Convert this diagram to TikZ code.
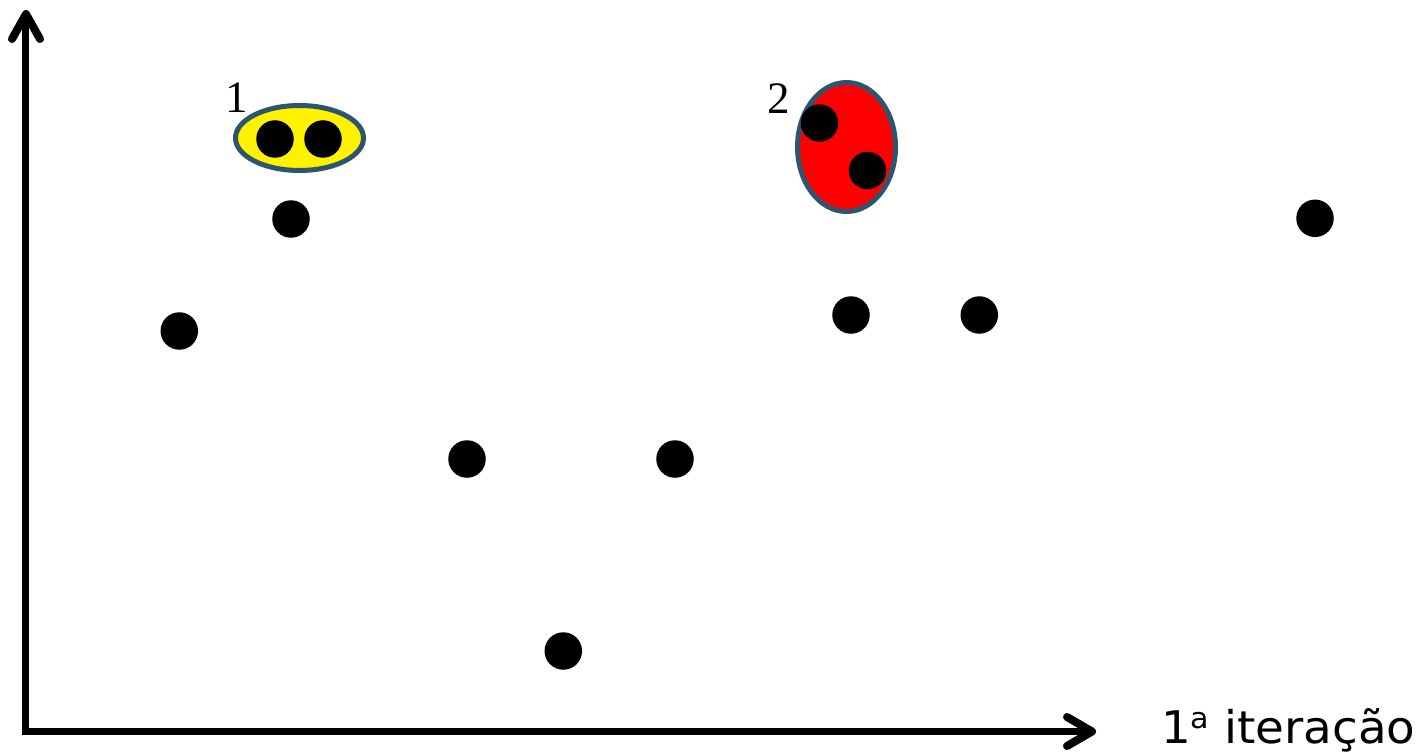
\documentclass[tikz,border=0pt]{standalone}
\usepackage{graphicx}
\usepackage{fontspec}
\setmainfont{Liberation Serif}
\newfontfamily\labelfont{DejaVu Sans}
\usetikzlibrary{shapes.geometric}
\definecolor{rim}{RGB}{47,85,110}
\begin{document}
\begin{tikzpicture}[x=1pt,y=-1pt,
  dot/.style={circle,fill=black,inner sep=0pt,minimum size=37.5pt},
  axis/.style={line width=7.5pt,black},
  head/.style={line width=8pt,black,line cap=round,line join=round},
  group/.style={ellipse,draw=rim,line width=5pt,inner sep=0pt},
  num/.style={inner sep=0pt,font=\fontsize{45}{45}\selectfont}]
\useasboundingbox (0,0) rectangle (1426,754);
% axes
\coordinate (o) at (25.5,735);
\coordinate (ytop) at (25.5,16);
\coordinate (xl) at (22,731.5);
\coordinate (xtip) at (1091,731.5);
\draw[axis] (o) -- (ytop);
\draw[axis] (xl) -- (xtip);
\coordinate (yw1) at (12,39);
\coordinate (yt) at (26,14);
\coordinate (yw2) at (40,39);
\draw[head] (yw1) -- (yt) -- (yw2);
\coordinate (xw1) at (1067,717);
\coordinate (xt) at (1092,731.5);
\coordinate (xw2) at (1067,746);
\draw[head] (xw1) -- (xt) -- (xw2);
% groups
\node[group,fill=yellow,minimum width=128pt,minimum height=65pt] (g1) at (299.5,138) {};
\node[group,fill=red,minimum width=98pt,minimum height=129pt] (g2) at (846.5,147) {};
\node[dot] (a1) at (275,139) {};
\node[dot] (a2) at (323,139) {};
\node[dot] (b1) at (819.5,123) {};
\node[dot] (b2) at (867.5,170.5) {};
\node[num] (n1) at (237,98) {1};
\node[num] (n2) at (778.5,98.5) {2};
% other points
\node[dot] (p1) at (291,219) {};
\node[dot] (p2) at (179.3,331) {};
\node[dot] (p3) at (467,459) {};
\node[dot] (p4) at (675,459) {};
\node[dot] (p5) at (563.3,651) {};
\node[dot] (p6) at (851,315) {};
\node[dot] (p7) at (979.3,315) {};
\node[dot] (p8) at (1315,218.3) {};
% label
\node[anchor=base west,inner sep=0pt,font=\labelfont\fontsize{45}{45}\selectfont] (lab) at (1161,743) {\scalebox{1.04}[1]{1\raisebox{0.32em}{\fontsize{29}{29}\selectfont a} iteração}};
\end{tikzpicture}
\end{document}
